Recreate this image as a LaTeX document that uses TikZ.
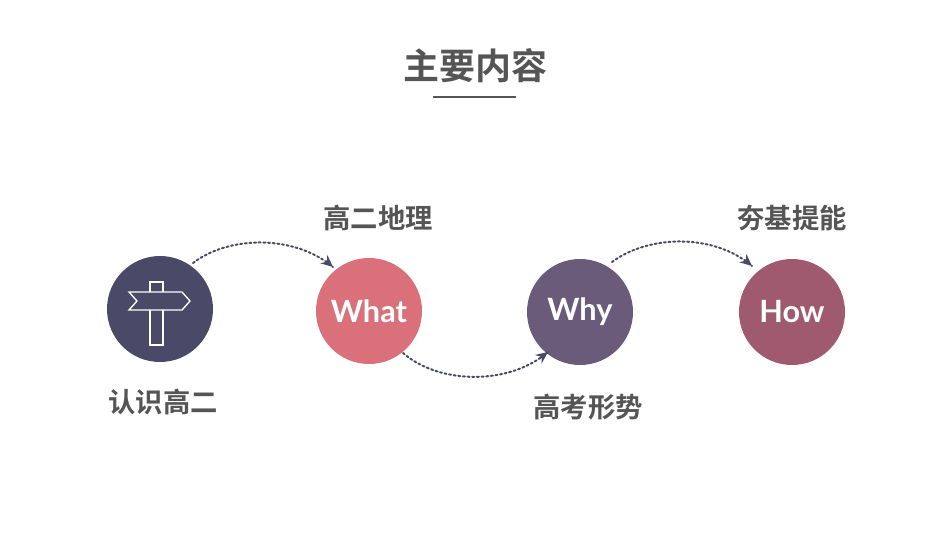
\documentclass[tikz,border=0pt]{standalone}
\usepackage{fontspec}
\setmainfont{Lato}
\newfontfamily\cjk{Noto Sans CJK SC Bold}
\usetikzlibrary{arrows.meta}
\definecolor{cA}{HTML}{4A4A68}
\definecolor{cB}{HTML}{D9707A}
\definecolor{cC}{HTML}{6B5B7B}
\definecolor{cD}{HTML}{A05A70}
\definecolor{tx}{HTML}{555555}
\begin{document}
\begin{tikzpicture}[x=0.75pt,y=-0.75pt,
  circ/.style={circle,minimum size=106*0.75pt,inner sep=0,text=white,font=\bfseries\fontsize{23}{26}\selectfont},
  lbl/.style={text=tx,font=\cjk\fontsize{20.5}{24}\selectfont},
  conn/.style={draw=cA,line width=1.5pt,dotted,line cap=round},
  tip/.style={draw=cA,line width=1.4pt,-{Stealth[length=9pt,width=8pt]}}]
\useasboundingbox (0,0) rectangle (950,535);
\node[lbl,font=\cjk\fontsize{27}{30}\selectfont] (title) at (475,66) {主要内容};
\draw[tx,line width=1.2pt] (433,97) coordinate (l1) -- (516,97) coordinate (l2);
\node[circ,fill=cA] (c1) at (160,309) {};
\node[circ,fill=cB] (c2) at (369,311) {What};
\node[circ,fill=cC] (c3) at (580,312) {Why};
\node[circ,fill=cD] (c4) at (792,312) {How};
\draw[white,line width=1pt] (150,282) rectangle (163,345);
\draw[white,line width=1pt,fill=cA] (129,292) -- (182,292) -- (190,301) -- (182,310) -- (129,310) -- (137,301) -- cycle;
\node[lbl] (t1) at (163,402) {认识高二};
\node[lbl] (t2) at (378,218) {高二地理};
\node[lbl] (t3) at (588,407) {高考形势};
\node[lbl] (t4) at (792,218) {夯基提能};
\coordinate (a1) at (193,263); \coordinate (b1) at (333,267);
\coordinate (a2) at (403,353); \coordinate (b2) at (548,352);
\coordinate (a3) at (612,262); \coordinate (b3) at (752,266);
\draw[conn] (a1) .. controls (230,235) and (295,235) .. (b1);
\draw[conn] (a2) .. controls (440,385) and (510,385) .. (b2);
\draw[conn] (a3) .. controls (650,234) and (715,234) .. (b3);
\draw[tip] (326,261) -- (b1);
\draw[tip] (540,358) -- (b2);
\draw[tip] (745,260) -- (b3);
\end{tikzpicture}
\end{document}
